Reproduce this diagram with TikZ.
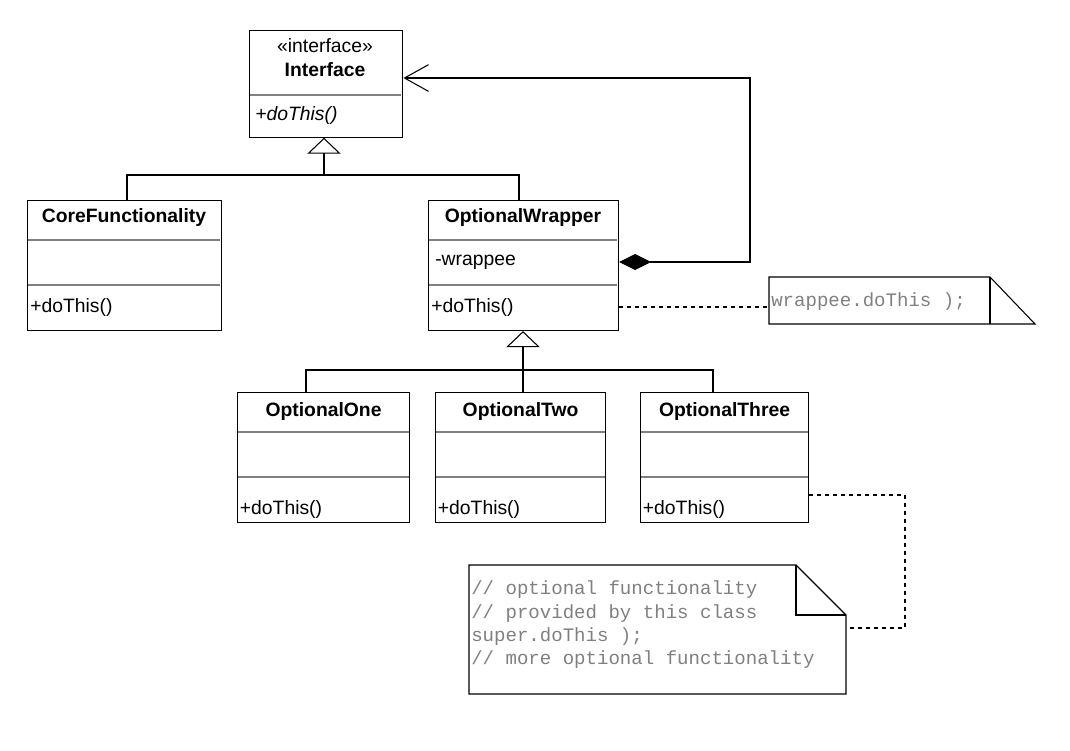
\documentclass[tikz,border=0pt]{standalone}
\usepackage{fontspec}
\setmainfont{Liberation Sans}
\newfontfamily\codefont{Liberation Mono}
\usetikzlibrary{arrows.meta,positioning}
\tikzset{
  umlbox/.style={draw, thick, anchor=north west, inner sep=0pt},
  divider/.style={gray, line width=1.6pt},
  txt/.style={anchor=west, inner sep=0pt, font=\fontsize{14.5}{16}\selectfont},
  ttl/.style={inner sep=0pt, font=\fontsize{14.5}{16}\selectfont\bfseries},
  code/.style={anchor=west, inner sep=0pt, text=gray, font=\fontsize{14.3}{17.5}\selectfont\codefont},
  inherit/.style={thick, -{Triangle[open, length=12pt, width=25pt]}},
  note/.style={thick, dashed, dash pattern=on 3pt off 3pt},
}
\begin{document}
\begin{tikzpicture}[x=0.75pt, y=-0.75pt]
\useasboundingbox (0,0) rectangle (1070,750);

% interface
\node[umlbox, minimum width=115pt, minimum height=80pt] (iface) at (249,30) {};
\draw[divider] (250,95) -- (401,95);
\node[inner sep=0pt, font=\fontsize{14.5}{16}\selectfont] (stereo) at (325,46) {«interface»};
\node[ttl] (ifname) at (325,70) {Interface};
\node[txt, font=\fontsize{14.5}{16}\selectfont\itshape] (ifop) at (255,115) {+doThis()};

% core
\node[umlbox, minimum width=145.5pt, minimum height=97.5pt] (core) at (27,200) {};
\draw[divider] (28,240) -- (220,240);
\draw[divider] (28,285) -- (220,285);
\node[ttl] (corename) at (124,217) {CoreFunctionality};
\node[txt] (coreop) at (30,307) {+doThis()};

% wrapper
\node[umlbox, minimum width=142.5pt, minimum height=97.5pt] (wrap) at (428,200) {};
\draw[divider] (429,240) -- (617,240);
\draw[divider] (429,285) -- (617,285);
\node[ttl] (wrapname) at (523,217) {OptionalWrapper};
\node[txt] (wrapattr) at (435,262) {-wrappee};
\node[txt] (wrapop) at (431,307) {+doThis()};

% decorators
\foreach \n/\l/\w/\t in {one/237/129/OptionalOne, two/435/127.5/OptionalTwo, three/640/126/OptionalThree}{
  \node[umlbox, minimum width=\w pt, minimum height=97.5pt] (\n) at (\l,392) {};
  \draw[divider] ([xshift=1pt, yshift=-30pt]\n.north west) -- ([xshift=-1pt, yshift=-30pt]\n.north east);
  \draw[divider] ([xshift=1pt, yshift=-63.75pt]\n.north west) -- ([xshift=-1pt, yshift=-63.75pt]\n.north east);
  \node[ttl, below=8pt of \n.north] (\n name) {\t};
  \node[txt, above right=10pt and 2pt of \n.south west, anchor=west] (\n op) {+doThis()};
}

% generalisation to interface
\coordinate (j1) at (324,175);
\draw[inherit] (j1) -- (iface.south -| j1);
\draw[thick] (core.north -| 127,0) |- (j1) -| (wrap.north -| 519,0);

% generalisation to wrapper
\coordinate (j2) at (523,370);
\draw[inherit] (j2) -- (wrap.south -| j2);
\draw[thick] (one.north -| 306,0) |- (j2) -| (three.north -| 713,0);
\draw[thick] (two.north -| j2) -- (j2);

% composition
\coordinate (c1) at (750,262);
\coordinate (c2) at (750,78);
\draw[thick, {Diamond[length=24pt, width=12pt]}-{Straight Barb[length=18pt, width=20pt]}]
  (wrap.east |- c1) -- (c1) -- (c2) -- (iface.east |- c2);

% note 1
\draw[thick] (769,277) -- (990,277) -- (1035,324) -- (769,324) -- cycle;
\draw[thick] (990,277) -- (990,324);
\node[code] (note1) at (771,302) {wrappee.doThis );};
\draw[note] (wrap.east |- 0,307) -- (769,307);

% note 2
\draw[thick] (469,565) -- (796,565) -- (846,615) -- (846,694) -- (469,694) -- cycle;
\draw[thick] (796,565) -- (796,615) -- (846,615);
\node[code, align=left] (note2) at (471,625) {// optional functionality\\// provided by this class\\super.doThis );\\// more optional functionality};
\coordinate (d1) at (905,495);
\coordinate (d2) at (905,628);
\draw[note] (three.east |- d1) -- (d1) -- (d2) -- (846,628);
\end{tikzpicture}
\end{document}
